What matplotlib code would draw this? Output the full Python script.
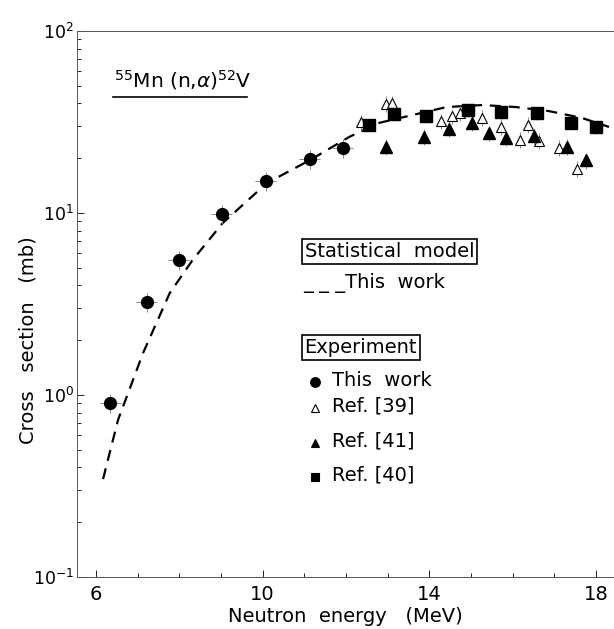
import numpy as np
import matplotlib.pyplot as plt
from matplotlib.ticker import FixedLocator, NullFormatter

# this work (experiment)
e_this = [6.34, 7.22, 7.99, 9.02, 10.07, 11.13, 11.92]
s_this = [0.90, 3.24, 5.52, 9.9, 15.0, 19.8, 22.7]

# Ref. [39] open triangles
e_39 = [12.37, 12.95, 13.11, 14.29, 14.55, 14.74, 15.27, 15.72, 16.18, 16.37, 16.63, 17.11, 17.54]
s_39 = [31.6, 39.7, 40.2, 32.0, 34.1, 35.4, 33.3, 29.7, 25.2, 30.5, 24.9, 22.8, 17.5]

# Ref. [41] filled triangles
e_41 = [12.97, 13.86, 14.46, 15.03, 15.44, 15.84, 16.51, 17.31, 17.76]
s_41 = [23.1, 26.2, 29.0, 31.3, 27.5, 25.8, 26.5, 23.1, 19.5]

# Ref. [40] squares
e_40 = [12.56, 13.16, 13.93, 14.93, 15.72, 16.59, 17.40, 18.00]
s_40 = [30.5, 35.0, 34.1, 36.8, 35.9, 35.4, 31.3, 29.7]

# statistical model curve
e_model = [6.17, 6.53, 7.13, 7.77, 8.32, 9.04, 10.10, 11.13, 12.08, 12.80, 14.41, 15.27, 16.08, 16.87, 17.66, 18.31]
s_model = [0.345, 0.73, 1.70, 3.63, 5.52, 8.8, 14.6, 19.5, 26.2, 31.3, 38.2, 39.2, 38.2, 36.3, 33.3, 29.7]

fs = 14
fig = plt.figure(figsize=(6.14, 6.29), dpi=100)
ax = fig.add_axes([0.1254, 0.0827, 0.8746, 0.868])

ax.plot(e_model, s_model, color='black', ls=(0, (5, 3.5)), lw=1.6)

ecol = '#888888'
ax.errorbar(e_this, s_this, yerr=np.array(s_this) * 0.12, xerr=0.25, fmt='o', color='black',
            ms=8.5, ecolor=ecol, elinewidth=0.7, capsize=0)
ax.errorbar(e_39, s_39, yerr=np.array(s_39) * 0.1, fmt='^', mfc='white', mec='black', mew=0.8,
            ms=7, ecolor=ecol, elinewidth=0.7, capsize=0)
ax.errorbar(e_41, s_41, yerr=np.array(s_41) * 0.1, fmt='^', color='black',
            ms=8, ecolor=ecol, elinewidth=0.7, capsize=0)
ax.errorbar(e_40, s_40, yerr=np.array(s_40) * 0.08, fmt='s', color='black',
            ms=8, ecolor=ecol, elinewidth=0.7, capsize=0)

ax.set_yscale('log')
ax.set_xlim(5.545, 18.43)
ax.set_ylim(0.1, 100)

ax.xaxis.set_major_locator(FixedLocator([6, 10, 14, 18]))
ax.xaxis.set_minor_locator(FixedLocator([7, 8, 9, 11, 12, 13, 15, 16, 17]))
ax.set_yticks([0.1, 1, 10, 100])
ax.set_yticklabels(['$10^{-1}$', '$10^{0}$', '$10^{1}$', '$10^{2}$'])
ax.yaxis.set_minor_locator(FixedLocator([m * 10.0 ** d for d in (-1, 0, 1) for m in range(2, 10)]))
ax.yaxis.set_minor_formatter(NullFormatter())
ax.tick_params(which='both', direction='in', width=0.6)
ax.tick_params(axis='x', labelsize=fs, pad=6)
ax.tick_params(axis='y', labelsize=12.5, pad=2)
ax.tick_params(which='major', length=5)
ax.tick_params(which='minor', length=3)

ax.spines['right'].set_visible(False)
for sp in ['left', 'bottom', 'top']:
    ax.spines[sp].set_linewidth(0.7)
    ax.spines[sp].set_color('#555555')

ax.set_xlabel('Neutron  energy   (MeV)', fontsize=fs, labelpad=2)
fig.text(0.045, 0.46, 'Cross   section   (mb)', fontsize=fs, rotation=90, ha='center', va='center')

# reaction label
fig.text(0.297, 0.873, r'$^{55}$Mn (n,$\alpha$)$^{52}$V', fontsize=14.5, ha='center', va='center')
fig.add_artist(plt.Line2D([0.184, 0.402], [0.846, 0.846], color='black', lw=1.2))

# legend
box = dict(boxstyle='square,pad=0.15', fc='white', ec='black', lw=1.2)
fig.text(0.496, 0.6, 'Statistical  model', fontsize=fs, ha='left', va='center', bbox=box)
fig.text(0.493, 0.55, '_ _ _This  work', fontsize=fs, ha='left', va='center')
fig.text(0.496, 0.447, 'Experiment', fontsize=fs, ha='left', va='center', bbox=box)

ax_leg = [('o', 'black', 'This  work', 0.392, 7),
          ('^', 'white', 'Ref. [39]', 0.351, 5.5),
          ('^', 'black', 'Ref. [41]', 0.296, 6),
          ('s', 'black', 'Ref. [40]', 0.242, 6)]
for m, fc, lab, yy, msz in ax_leg:
    fig.add_artist(plt.Line2D([0.513], [yy], marker=m, mfc=fc, mec='black', ms=msz, mew=0.8, ls='none'))
    fig.text(0.54, yy + 0.003, lab, fontsize=fs, ha='left', va='center')

fig.savefig('out.png', dpi=100)
